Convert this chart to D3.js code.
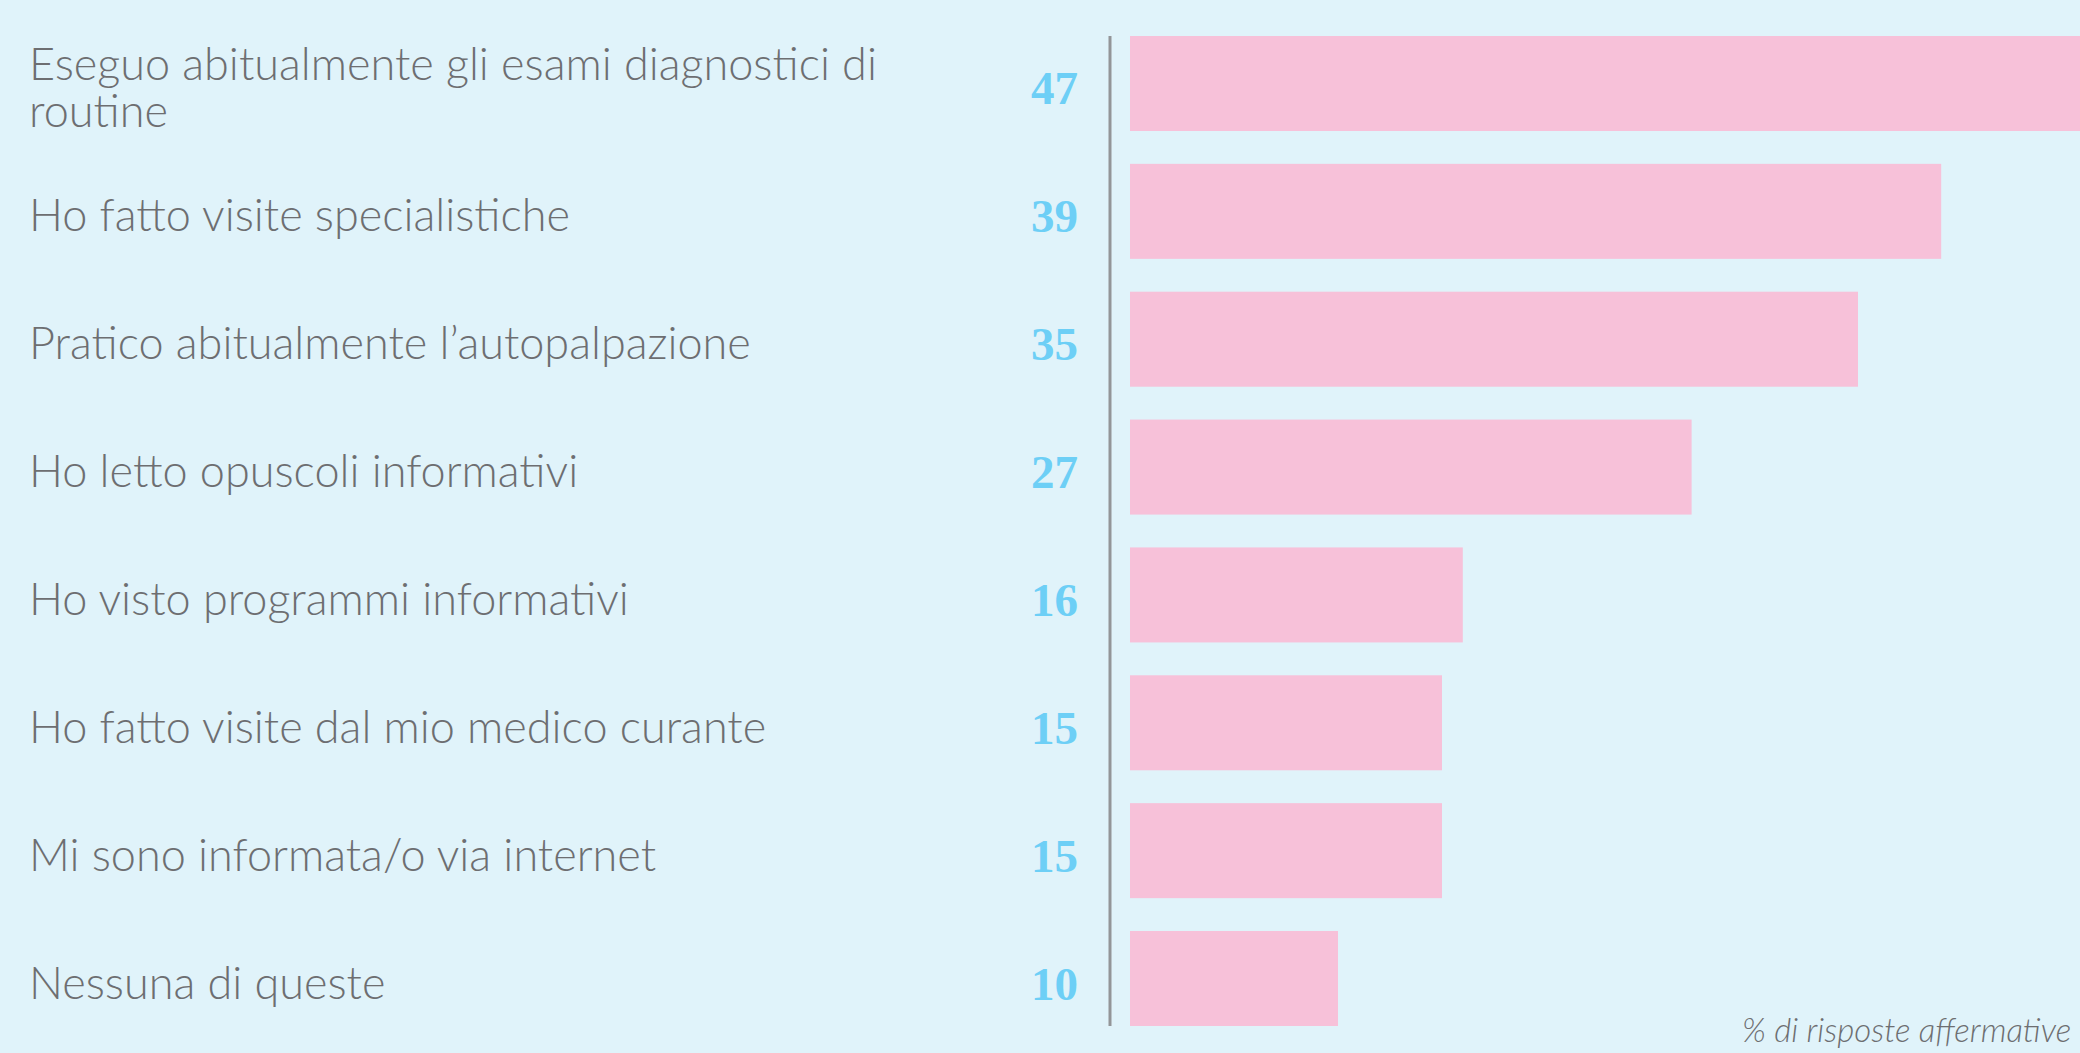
<!DOCTYPE html>
<html>
<head>
<meta charset="utf-8">
<script src="https://cdn.jsdelivr.net/npm/d3@7"></script>
<style>
  body { margin: 0; background: #e0f3fa; overflow: hidden; }
</style>
</head>
<body>
<script>
const w = 2080
const h = 1053

const categories = [
	"Eseguo abitualmente gli esami diagnostici di routine",
	"Ho fatto visite specialistiche",
	"Pratico abitualmente l\u2019autopalpazione",
	"Ho letto opuscoli informativi",
	"Ho visto programmi informativi",
	"Ho fatto visite dal mio medico curante",
	"Mi sono informata/o via internet",
	"Nessuna di queste"
]
const values = [47, 39, 35, 27, 16, 15, 15, 10]
const footnote = "% di risposte affermative"

const barLeft = 1130
const axisX = 1110

let svg = d3.select("body")
	.append("svg")
	.attr("width", w)
	.attr("height", h)

svg.append("rect")
	.attr("width", w)
	.attr("height", h)
	.attr("fill", "#e0f3fa")

let xScale = d3.scaleLinear()
	.domain([0, 100])
	.range([barLeft, barLeft + 2080])

let yScale = d3.scaleBand()
	.domain(categories)
	.range([36, 1026])
	.paddingInner(0.257)
	.paddingOuter(0)

// bars
svg.selectAll("rect.bar")
	.data(values)
	.enter()
	.append("rect")
	.attr("class", "bar")
	.attr("x", xScale(0))
	.attr("y", (d, i) => yScale(categories[i]))
	.attr("width", d => xScale(d) - xScale(0))
	.attr("height", yScale.bandwidth())
	.attr("fill", "#f7c1d9")

// vertical axis line
svg.append("line")
	.attr("x1", axisX)
	.attr("x2", axisX)
	.attr("y1", yScale(categories[0]))
	.attr("y2", yScale(categories[categories.length - 1]) + yScale.bandwidth())
	.attr("stroke", "#939598")
	.attr("stroke-width", 3)

// value labels
svg.selectAll("text.val")
	.data(values)
	.enter()
	.append("text")
	.attr("class", "val")
	.attr("x", 1078)
	.attr("y", (d, i) => yScale(categories[i]) + yScale.bandwidth() / 2 + 21)
	.attr("text-anchor", "end")
	.attr("font-family", "Liberation Serif, DejaVu Serif, serif")
	.attr("font-weight", "bold")
	.attr("font-size", 47)
	.attr("fill", "#6dcff6")
	.text(d => d)

// category labels, wrapped
let labels = svg.selectAll("text.cat")
	.data(categories)
	.enter()
	.append("text")
	.attr("class", "cat")
	.attr("x", 29)
	.attr("font-family", "Lato, sans-serif")
	.attr("font-weight", 300)
	.attr("font-size", 45)
	.attr("fill", "#6d6e71")

labels.each(function(d) {
	let t = d3.select(this)
	let words = d.split(" ")
	let lines = []
	let cur = []
	let tmp = t.append("tspan")
	words.forEach(word => {
		cur.push(word)
		tmp.text(cur.join(" "))
		if (tmp.node().getComputedTextLength() > 930 && cur.length > 1) {
			cur.pop()
			lines.push(cur.join(" "))
			cur = [word]
		}
	})
	lines.push(cur.join(" "))
	tmp.remove()
	let lh = 47
	let mid = yScale(d) + yScale.bandwidth() / 2 + 20
	let y0 = mid - (lines.length - 1) * lh / 2
	lines.forEach((l, i) => {
		t.append("tspan")
			.attr("x", 29)
			.attr("y", y0 + i * lh)
			.text(l)
	})
})

svg.append("text")
	.attr("x", 1742)
	.attr("y", 1042)
	.attr("font-family", "Lato, sans-serif")
	.attr("font-style", "italic")
	.attr("font-weight", 300)
	.attr("font-size", 33)
	.attr("fill", "#6d6e71")
	.text(footnote)
</script>
</body>
</html>
